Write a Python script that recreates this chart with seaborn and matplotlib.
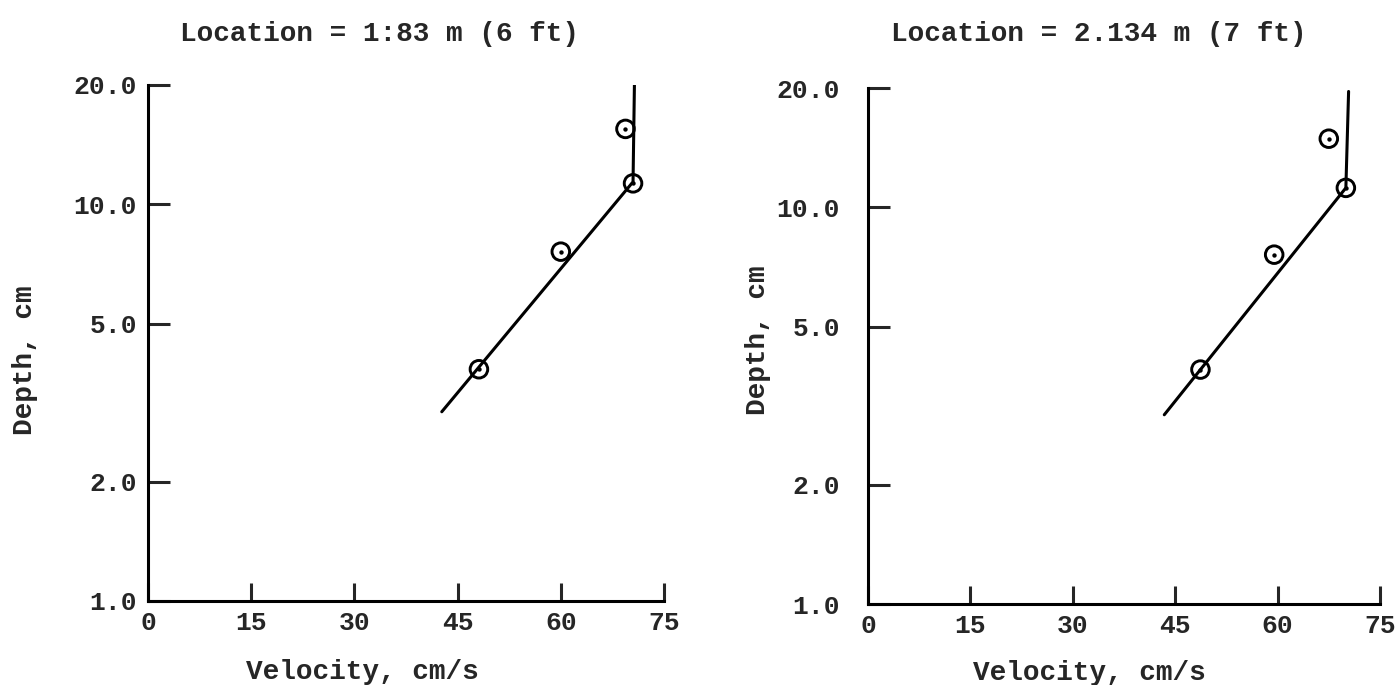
import matplotlib
matplotlib.use("Agg")
import matplotlib.pyplot as plt
import seaborn as sns
import pandas as pd

# ---- data ----
velocity_6ft = [48.1, 60.0, 70.5, 69.4]
depth_6ft = [3.84, 7.60, 11.3, 15.5]
fit_vel_6ft = [42.7, 70.5, 70.7]
fit_depth_6ft = [3.0, 11.4, 20.0]

velocity_7ft = [48.7, 59.5, 70.0, 67.5]
depth_7ft = [3.90, 7.60, 11.2, 14.9]
fit_vel_7ft = [43.4, 70.0, 70.4]
fit_depth_7ft = [3.0, 11.2, 19.6]

x_ticks = [0, 15, 30, 45, 60, 75]
x_tick_labels = ["0", "15", "30", "45", "60", "75"]
y_ticks = [1.0, 2.0, 5.0, 10.0, 20.0]
y_tick_labels = ["1.0", "2.0", "5.0", "10.0", "20.0"]
titles = ["Location = 1:83 m (6 ft)", "Location = 2.134 m (7 ft)"]
x_label = "Velocity, cm/s"
y_label = "Depth, cm"

sns.set_style("ticks")
FONT = ["Liberation Mono", "DejaVu Sans Mono"]
plt.rcParams["font.family"] = FONT
plt.rcParams["font.weight"] = "bold"

fig = plt.figure(figsize=(13.95, 6.85), dpi=100)
ax_rects = [
    [148 / 1395, 1 - 601 / 685, 516 / 1395, 516 / 685],
    [868 / 1395, 1 - 604 / 685, 512 / 1395, 516 / 685],
]
title_pos = [(379 / 1395, 1 - 34 / 685), (1099 / 1395, 1 - 34 / 685)]
ylabel_coords = [(-0.214, 0.467), (-0.190, 0.512)]
xlabel_coords = [(0.415, -0.152), (0.432, -0.148)]
ytick_pad = [8, 20]

panels = [
    (velocity_6ft, depth_6ft, fit_vel_6ft, fit_depth_6ft),
    (velocity_7ft, depth_7ft, fit_vel_7ft, fit_depth_7ft),
]

for i, (vel, dep, fv, fd) in enumerate(panels):
    ax = fig.add_axes(ax_rects[i])
    pts = pd.DataFrame({"Velocity": vel, "Depth": dep})
    fit = pd.DataFrame({"Velocity": fv, "Depth": fd})
    sns.lineplot(data=fit, x="Velocity", y="Depth", sort=False, ax=ax,
                 color="black", linewidth=2.2, zorder=2)
    sns.scatterplot(data=pts, x="Velocity", y="Depth", ax=ax, marker="o",
                    s=160, facecolor="none", edgecolor="black",
                    linewidth=2.1, zorder=3)
    sns.scatterplot(data=pts, x="Velocity", y="Depth", ax=ax, marker="o",
                    s=10, color="black", linewidth=0, zorder=4)
    ax.set_yscale("log")
    ax.set_xlim(0, 75)
    ax.set_ylim(1.0, 20.0)
    ax.set_xticks(x_ticks)
    ax.set_xticklabels(x_tick_labels)
    ax.set_yticks(y_ticks)
    ax.set_yticklabels(y_tick_labels)
    ax.minorticks_off()
    for sp in ["top", "right"]:
        ax.spines[sp].set_visible(False)
    for sp in ["left", "bottom"]:
        ax.spines[sp].set_linewidth(2.2)
        ax.spines[sp].set_color("black")
    ax.tick_params(axis="y", direction="in", length=16, width=2.2,
                   labelsize=19, pad=ytick_pad[i])
    ax.tick_params(axis="x", direction="in", length=13, width=2.2,
                   labelsize=19, pad=7)
    for lab in ax.get_xticklabels() + ax.get_yticklabels():
        lab.set_fontweight("bold")
    ax.set_xlabel(x_label, fontsize=20, fontweight="bold", va="baseline")
    ax.set_ylabel(y_label, fontsize=20, fontweight="bold")
    ax.xaxis.set_label_coords(*xlabel_coords[i])
    ax.yaxis.set_label_coords(*ylabel_coords[i])
    fig.text(title_pos[i][0], title_pos[i][1], titles[i], ha="center",
             va="center", fontsize=20, fontweight="bold")

fig.savefig("out.png", dpi=100)
